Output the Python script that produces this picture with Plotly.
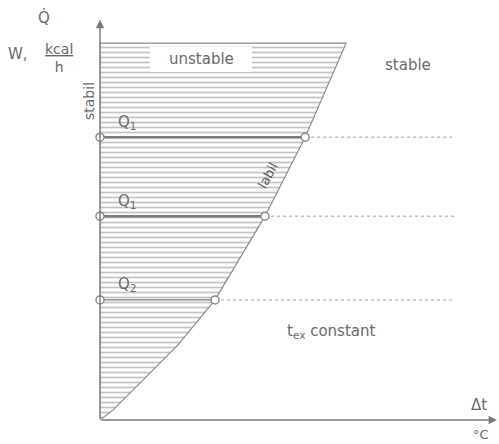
import plotly.graph_objects as go

# Boundary between the unstable (hatched) and stable regions: heat flow vs. temperature difference
curve_dt = [0.0, 0.33, 1.03, 2.0, 2.95, 4.23, 5.26, 6.31]
curve_q = [0.0, 0.25, 0.94, 1.90, 3.04, 5.16, 7.16, 9.54]

# Operating levels of heat flow with their crossing point on the boundary
level_q = [7.16, 5.16, 3.04]
level_dt = [5.26, 4.23, 2.95]
level_labels = ["Q<sub>1</sub>", "Q<sub>1</sub>", "Q<sub>2</sub>"]
level_width = [2.6, 2.6, 1.4]
line_end_dt = 9.1

# axis extents (arrow tips)
x_tip, y_tip = 10.18, 10.13

GRAY = "#7a7a7a"
LIGHT = "#a0a0a0"
TEXT = "#6a6a6a"
FONT = "DejaVu Sans"

W, H = 499, 444
ML, MR, MT, MB = 100, 9, 25, 24
PW, PH = W - ML - MR, H - MT - MB


def px_to_paper(px, py):
    return (px - ML) / PW, (H - MB - py) / PH


fig = go.Figure()

# Hatched unstable region bounded by the axis, the boundary curve and the top edge
poly_x = curve_dt + [0.0, 0.0]
poly_y = curve_q + [curve_q[-1], 0.0]
fig.add_trace(go.Scatter(
    x=poly_x, y=poly_y, mode="lines", fill="toself",
    fillcolor="rgba(0,0,0,0)",
    fillpattern=dict(shape="-", size=5, solidity=0.34, fgcolor="#858585",
                     bgcolor="rgba(0,0,0,0)"),
    line=dict(color="#8c8c8c", width=1.2),
    hoverinfo="skip", showlegend=False,
))

for q, dt, w in zip(level_q, level_dt, level_width):
    # solid part inside the unstable region
    fig.add_trace(go.Scatter(x=[0, dt], y=[q, q], mode="lines",
                             line=dict(color=GRAY, width=w),
                             hoverinfo="skip", showlegend=False))
    # dotted continuation through the stable region
    fig.add_trace(go.Scatter(x=[dt, line_end_dt], y=[q, q], mode="lines",
                             line=dict(color=LIGHT, width=1, dash="dot"),
                             hoverinfo="skip", showlegend=False))
    fig.add_trace(go.Scatter(x=[0, dt], y=[q, q], mode="markers",
                             marker=dict(symbol="circle", size=8, color="white",
                                         line=dict(color="#8a8a8a", width=1.5)),
                             hoverinfo="skip", showlegend=False, cliponaxis=False))

# clear patch in the hatching for the "unstable" caption
shapes = [dict(type="rect", xref="x", yref="y", x0=1.28, x1=3.9, y0=8.81, y1=9.44,
               fillcolor="white", line=dict(width=0), layer="above")]

annotations = []
# axes drawn as arrows from the origin
for tip in [(0, y_tip), (x_tip, 0)]:
    annotations.append(dict(x=tip[0], y=tip[1], ax=0, ay=0, axref="x", ayref="y",
                            xref="x", yref="y", text="", showarrow=True, arrowhead=2,
                            arrowsize=1.2, arrowwidth=1.4, arrowcolor=GRAY))

for q, lab in zip(level_q, level_labels):
    annotations.append(dict(x=0.7, y=q + 0.38, xref="x", yref="y", text=lab,
                            showarrow=False, font=dict(family=FONT, size=15, color=TEXT)))

text_items = [
    dict(x=2.6, y=9.13, text="unstable", size=15),
    dict(x=7.9, y=9.0, text="stable", size=15),
    dict(x=5.93, y=2.23, text="t<sub>ex</sub> constant", size=15),
]
for t in text_items:
    annotations.append(dict(x=t["x"], y=t["y"], xref="x", yref="y", text=t["text"],
                            showarrow=False, font=dict(family=FONT, size=t["size"], color=TEXT)))

annotations.append(dict(x=4.3, y=6.2, xref="x", yref="y", text="labil", textangle=-62,
                        showarrow=False, font=dict(family=FONT, size=13, color="#5a5a5a")))

# labels placed in pixel positions outside the axes area
outer = [
    dict(px=89, py=101, text="stabil", size=14, angle=-90),
    dict(px=44, py=18, text="Q̇", size=15, angle=0),
    dict(px=18, py=54, text="W,", size=15, angle=0),
    dict(px=59, py=58, text="<u>kcal</u><br>h", size=14, angle=0),
    dict(px=479, py=405, text="Δt", size=15, angle=0),
    dict(px=481, py=434, text="°C", size=13, angle=0),
]
for o in outer:
    x, y = px_to_paper(o["px"], o["py"])
    annotations.append(dict(x=x, y=y, xref="paper", yref="paper", text=o["text"],
                            textangle=o["angle"], xanchor="center", yanchor="middle",
                            showarrow=False, font=dict(family=FONT, size=o["size"], color=TEXT)))

fig.update_layout(
    width=W, height=H,
    margin=dict(l=ML, r=MR, t=MT, b=MB),
    paper_bgcolor="white", plot_bgcolor="white",
    xaxis=dict(range=[0, 10], visible=False),
    yaxis=dict(range=[0, 10], visible=False),
    shapes=shapes,
    annotations=annotations,
    showlegend=False,
)

fig.write_html("out.html")
